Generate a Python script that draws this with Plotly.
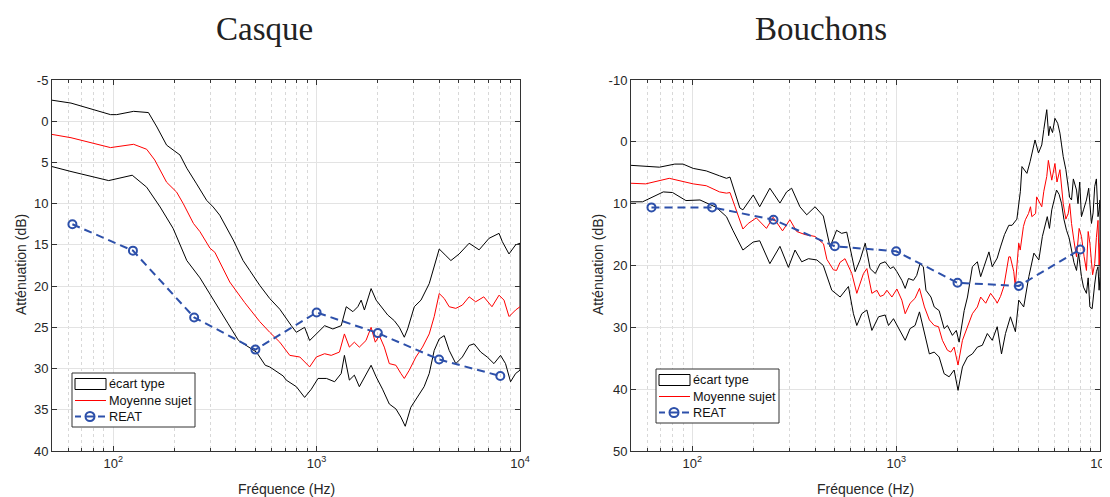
import math
import plotly.graph_objects as go

# ---------------- Casque (left) ----------------
cq_up_f = [50, 62, 97, 104, 126, 149, 164, 183, 213, 230, 257, 288, 310, 334, 389, 435, 469, 525, 588, 659,
           751, 795, 873, 924, 1016, 1095, 1202, 1321, 1399, 1508, 1594, 1656, 1718, 1853, 1962, 2075, 2236,
           2411, 2551, 2699, 2803, 3022, 3260, 3578, 3786, 4008, 4322, 4573, 5021, 5623, 6295, 7047, 7889,
           8185, 8830, 9514, 10000]
cq_up_db = [-2.55, -2.2, -0.8, -0.8, -1.2, -1.05, 0.7, 2.9, 4.1, 5.7, 7.6, 9.6, 10.4, 11.4, 14.4, 16.9, 18.1,
            19.9, 21.5, 22.8, 24.8, 25.6, 25.0, 26.6, 25.6, 24.8, 25.2, 24.8, 22.5, 23.1, 22.5, 21.7, 22.9,
            20.3, 21.7, 22.5, 23.5, 24.2, 25.0, 26.2, 25.2, 22.5, 21.7, 19.7, 17.7, 15.5, 16.3, 16.9, 16.1,
            14.8, 15.6, 14.2, 13.6, 14.6, 16.1, 15.0, 14.8]

cq_mean_f = [50, 62, 97, 126, 146, 160, 183, 205, 221, 248, 267, 299, 316, 374, 443, 525, 588, 659, 738, 827,
             924, 997, 1095, 1180, 1295, 1370, 1449, 1533, 1622, 1749, 1853, 1943, 2034, 2152, 2277, 2454,
             2597, 2699, 2855, 3078, 3316, 3578, 3786, 4008, 4240, 4486, 4834, 5207, 5623, 6055, 6637, 7280,
             7889, 8344, 8830, 9514, 10000]
cq_mean_db = [1.6, 2.0, 3.2, 2.8, 3.4, 4.7, 7.4, 8.6, 10.0, 12.4, 13.4, 15.4, 15.9, 19.5, 22.0, 24.3, 25.6,
              26.8, 28.4, 28.6, 29.8, 28.6, 28.2, 28.4, 28.0, 25.8, 27.4, 26.8, 27.4, 26.6, 25.0, 26.8, 26.0,
              27.4, 29.4, 29.6, 30.6, 31.2, 30.2, 28.6, 27.4, 25.8, 23.7, 20.9, 21.5, 22.5, 22.7, 22.3, 21.3,
              21.9, 21.3, 22.5, 21.1, 21.7, 23.7, 22.9, 22.5]

cq_low_f = [50, 62, 95, 124, 146, 170, 197, 230, 267, 316, 366, 413, 506, 559, 588, 685, 709, 795, 873, 942,
            1016, 1118, 1226, 1321, 1370, 1449, 1533, 1622, 1718, 1853, 1962, 2109, 2277, 2454, 2597, 2727,
            2905, 3126, 3377, 3578, 3786, 4008, 4240, 4486, 4834, 5207, 5623, 5948, 6410, 6900, 7446, 8024,
            8488, 8986, 9514, 10000]
cq_low_db = [5.5, 6.1, 7.2, 6.55, 8.0, 10.4, 13.0, 16.9, 19.0, 22.0, 24.5, 26.6, 28.0, 29.6, 29.8, 30.9, 31.4,
             32.2, 33.5, 32.5, 31.2, 31.2, 31.6, 30.6, 28.4, 31.4, 30.8, 32.2, 31.0, 29.6, 31.0, 32.5, 34.3,
             34.9, 35.9, 37.0, 34.7, 33.5, 32.2, 30.6, 27.8, 26.4, 26.0, 27.8, 29.4, 28.6, 27.2, 27.0, 28.0,
             28.6, 29.4, 28.4, 29.4, 31.6, 30.6, 30.2]

reat_f = [63, 125, 250, 500, 1000, 2000, 4000, 8000]
cq_reat_db = [12.5, 15.7, 23.8, 27.7, 23.2, 25.7, 28.9, 30.9]

# ---------------- Bouchons (right) ----------------
bc_up_f = [50, 69, 82, 90, 101, 117, 136, 147, 153, 171, 177, 199, 214, 240, 269, 290, 307, 337, 364, 400,
           439, 474, 510, 540, 572, 600, 629, 665, 705, 745, 790, 834, 883, 935, 970, 1008, 1066, 1107, 1149,
           1215, 1261, 1309, 1359, 1400, 1481, 1537, 1625, 1719, 1784, 1887, 1972, 2036, 2156, 2238, 2365,
           2502, 2597, 2696, 2852, 2960, 3131, 3250, 3400, 3569, 3704, 3910, 4068, 4140, 4380, 4540, 4800,
           4990, 5180, 5480, 5690, 6010, 6360, 6600, 6980, 7250, 7670, 8110, 8580, 9080, 9420, 9780, 10000]
bc_up_db = [3.8, 4.1, 3.6, 3.6, 4.3, 4.7, 5.5, 5.9, 5.7, 10.7, 11.0, 8.6, 10.5, 7.5, 9.9, 8.1, 7.5, 10.5, 11.8,
            10.5, 12.0, 17.0, 14.3, 14.8, 14.6, 18.0, 21.0, 19.1, 16.4, 20.5, 21.3, 19.7, 19.4, 20.5, 20.2,
            21.0, 22.4, 23.7, 22.1, 22.4, 21.6, 19.7, 20.2, 24.0, 25.1, 26.7, 27.3, 30.2, 29.7, 31.3, 30.5,
            32.4, 27.3, 25.1, 20.2, 19.4, 21.8, 20.2, 17.8, 20.2, 18.8, 17.0, 15.0, 13.5, 13.5, 12.5, 8.0, 4.0,
            5.1, 3.2, -0.3, 1.8, 0.5, -5.2, -2.5, -3.8, -1.4, 2.4, 7.8, 9.4, 7.8, 12.1, 9.4, 13.2, 7.2, 12.1,
            9.4]
# extra readings in the dense high-frequency band
bc_up_f2 = [5300, 5600, 5850, 6200, 6480, 6800, 7100, 7400, 7800, 7950, 8300, 8800, 9250, 9600, 9900]
bc_up_db2 = [-2.0, -1.0, -1.5, -3.0, 0.5, 4.5, 9.0, 6.0, 10.0, 6.5, 11.0, 7.5, 11.5, 6.0, 11.0]

bc_mean_f = [50, 59, 77, 101, 117, 136, 147, 153, 162, 177, 188, 206, 231, 249, 277, 301, 325, 357, 400, 440,
             457, 492, 510, 530, 561, 593, 606, 641, 691, 718, 760, 804, 834, 867, 900, 953, 1008, 1066, 1107,
             1170, 1238, 1301, 1376, 1455, 1537, 1613, 1686, 1784, 1853, 1924, 2011, 2114, 2238, 2365, 2502,
             2597, 2751, 2905, 3073, 3130, 3250, 3373, 3569, 3630, 3776, 3840, 3993, 4060, 4210, 4304, 4460,
             4561, 4630, 4830, 4890, 5180, 5480, 5580, 5800, 6010, 6360, 6600, 6980, 7250, 7670, 8110, 8580,
             8920, 9420, 9780, 10000]
bc_mean_db = [6.7, 6.8, 5.9, 6.8, 7.1, 8.1, 8.3, 8.2, 10.5, 14.1, 13.2, 12.3, 14.0, 12.2, 14.4, 12.6, 14.5,
              15.0, 15.3, 16.5, 19.0, 20.7, 20.8, 19.5, 18.9, 20.8, 21.3, 24.5, 21.3, 20.5, 24.5, 24.0, 25.0,
              24.8, 24.0, 25.1, 23.8, 25.6, 27.8, 26.1, 25.3, 23.7, 26.7, 28.8, 29.7, 29.9, 32.1, 33.7, 34.0,
              33.2, 36.1, 32.1, 29.9, 27.8, 26.7, 25.1, 26.1, 24.5, 25.6, 26.1, 25.0, 23.4, 18.6, 18.6, 21.0,
              23.4, 16.4, 17.5, 13.7, 12.6, 11.6, 10.5, 12.1, 11.6, 8.9, 10.5, 5.6, 3.0, 6.2, 3.5, 4.5, 10.0,
              11.6, 13.2, 18.6, 15.3, 20.8, 16.4, 19.7, 12.7, 16.4]
bc_mean_f2 = [5300, 5700, 6150, 6500, 6800, 7100, 7450, 7900, 8350, 8750, 9200, 9600, 9900]
bc_mean_db2 = [8.0, 4.5, 6.5, 8.0, 12.5, 10.0, 16.0, 14.0, 18.5, 14.5, 21.5, 15.5, 20.0]

bc_low_f = [50, 57, 72, 80, 93, 109, 131, 147, 158, 177, 199, 214, 240, 269, 296, 319, 344, 371, 408, 439,
            465, 483, 531, 583, 617, 641, 678, 718, 760, 819, 883, 917, 970, 1046, 1107, 1170, 1238, 1301,
            1376, 1455, 1537, 1625, 1719, 1819, 1924, 2011, 2114, 2238, 2365, 2502, 2647, 2800, 2960, 3131,
            3287, 3438, 3636, 3846, 3993, 4224, 4476, 4739, 5011, 5216, 5512, 5800, 6120, 6480, 6850, 7250,
            7670, 8110, 8580, 8920, 9420, 9780, 10000]
bc_low_db = [9.7, 9.7, 8.1, 8.2, 9.5, 9.4, 10.6, 12.1, 14.3, 17.5, 16.2, 16.0, 19.7, 16.9, 20.3, 17.5, 19.4,
             18.9, 19.1, 20.0, 22.4, 24.0, 25.1, 23.4, 27.8, 29.7, 27.8, 27.2, 30.5, 28.3, 28.0, 29.7, 28.6,
             30.5, 32.1, 30.2, 29.7, 27.5, 31.0, 34.3, 34.0, 34.8, 37.5, 38.0, 36.9, 40.2, 36.4, 34.8, 34.3,
             33.2, 32.9, 31.0, 32.1, 29.9, 34.3, 31.0, 28.3, 30.7, 25.6, 26.7, 21.8, 18.0, 19.1, 15.3, 12.1,
             11.0, 7.8, 10.0, 14.3, 17.5, 20.8, 21.8, 24.5, 26.7, 23.0, 20.2, 21.8]
bc_low_f2 = [5650, 5950, 6300, 6650, 7050, 7450, 7850, 8300, 8750, 9150, 9600, 9900]
bc_low_db2 = [14.0, 9.5, 8.5, 12.5, 15.5, 19.5, 18.0, 23.5, 22.0, 27.0, 21.0, 24.0]

bc_reat_db = [10.6, 10.6, 12.6, 16.9, 17.7, 22.8, 23.3, 17.4]

titles = ["Casque", "Bouchons"]
legend_labels = ["écart type", "Moyenne sujet", "REAT"]
xlabel = "Fréquence (Hz)"
ylabel = "Atténuation (dB)"
cq_yticks = [-5, 0, 5, 10, 15, 20, 25, 30, 35, 40]
bc_yticks = [-10, 0, 10, 20, 30, 40, 50]
x_tickvals = [100, 1000, 10000]
x_ticktext = ["10<sup>2</sup>", "10<sup>3</sup>", "10<sup>4</sup>"]

# ---------------- styling ----------------
W, H = 1110, 497
OFF = 8  # the page body offsets the figure by 8 px
RED = "#ff0000"
BLUE = "rgb(45,80,170)"
AX = "#333333"
TXT = "#262626"
FONT = "Liberation Sans"


def px(x):
    return (x - OFF) / W


def py(y):
    return 1 - (y - OFF) / H


def merged(f, db, f2=(), db2=()):
    pts = sorted(zip(list(f) + list(f2), list(db) + list(db2)))
    return [p[0] for p in pts], [p[1] for p in pts]


fig = go.Figure()


def add_panel(up, mean, low, reat_db, xa, ya):
    up_f, up_db = up
    low_f, low_db = low
    fig.add_trace(go.Scatter(
        x=up_f + low_f[::-1], y=up_db + low_db[::-1],
        mode="lines", fill="toself", fillcolor="rgba(0,0,0,0)",
        line=dict(color="black", width=1), xaxis=xa, yaxis=ya,
        name=legend_labels[0], showlegend=False, hoverinfo="skip"))
    fig.add_trace(go.Scatter(
        x=mean[0], y=mean[1], mode="lines", line=dict(color=RED, width=1),
        xaxis=xa, yaxis=ya, name=legend_labels[1], showlegend=False))
    fig.add_trace(go.Scatter(
        x=reat_f, y=reat_db, mode="lines+markers",
        line=dict(color=BLUE, width=2, dash="8px,5px"),
        marker=dict(symbol="circle-open", size=8, color=BLUE, line=dict(width=2, color=BLUE)),
        xaxis=xa, yaxis=ya, name=legend_labels[2], showlegend=False))


add_panel(merged(cq_up_f, cq_up_db), merged(cq_mean_f, cq_mean_db), merged(cq_low_f, cq_low_db),
          cq_reat_db, "x", "y")
add_panel(merged(bc_up_f, bc_up_db, bc_up_f2, bc_up_db2), merged(bc_mean_f, bc_mean_db, bc_mean_f2, bc_mean_db2),
          merged(bc_low_f, bc_low_db, bc_low_f2, bc_low_db2), bc_reat_db, "x2", "y2")

minor_vals = [m * 10 ** d for d in (1, 2, 3) for m in range(2, 10) if 50 <= m * 10 ** d <= 10000]

xcommon = dict(
    type="log", range=[math.log10(50), 4], tickvals=x_tickvals, ticktext=x_ticktext,
    ticks="inside", ticklen=5, tickcolor=AX, showline=True, linecolor=AX, linewidth=1, mirror="ticks",
    showgrid=True, gridcolor="#e3e3e3", gridwidth=1, zeroline=False, automargin=False,
    ticklabeloverflow="allow",
    tickfont=dict(family=FONT, size=13, color=TXT),
    minor=dict(tickvals=minor_vals, ticks="inside", ticklen=3, tickcolor=AX,
               showgrid=True, gridcolor="#d8d8d8", griddash="dot", gridwidth=1),
)
ycommon = dict(
    ticks="inside", ticklen=5, tickcolor=AX, showline=True, linecolor=AX, linewidth=1, mirror="ticks",
    showgrid=True, gridcolor="#e3e3e3", gridwidth=1, zeroline=False, automargin=False,
    ticklabeloverflow="allow",
    tickfont=dict(family=FONT, size=13, color=TXT),
)

ydom = [py(451), py(80)]
fig.update_layout(
    width=W, height=H, margin=dict(l=0, r=0, t=0, b=0, pad=0, autoexpand=False),
    paper_bgcolor="white", plot_bgcolor="white", showlegend=False,
    xaxis=dict(domain=[px(52), px(520)], anchor="y", **xcommon),
    yaxis=dict(domain=ydom, anchor="x", range=[40, -5], tickvals=cq_yticks,
               ticktext=[str(v) for v in cq_yticks], **ycommon),
    xaxis2=dict(domain=[px(631), px(1100)], anchor="y2", **xcommon),
    yaxis2=dict(domain=ydom, anchor="x2", range=[50, -10], tickvals=bc_yticks,
                ticktext=[str(v) for v in bc_yticks], **ycommon),
)

ann = []
shapes = []
for cx, t in zip([264, 821], titles):
    ann.append(dict(x=px(cx), y=py(29), xref="paper", yref="paper", text=t, showarrow=False,
                    font=dict(family="Liberation Serif", size=33, color="#222222"),
                    xanchor="center", yanchor="middle"))
for cx in [286, 865]:
    ann.append(dict(x=px(cx), y=py(489), xref="paper", yref="paper", text=xlabel, showarrow=False,
                    font=dict(family=FONT, size=14, color=TXT), xanchor="center", yanchor="middle"))
for cx in [21, 598]:
    ann.append(dict(x=px(cx), y=py(265), xref="paper", yref="paper", text=ylabel, showarrow=False,
                    textangle=-90, font=dict(family=FONT, size=14, color=TXT),
                    xanchor="center", yanchor="middle"))

# manual legends (MATLAB style)
for L, T in [(72, 373), (656, 369)]:
    Rr, B = L + 123, T + 54
    shapes.append(dict(type="rect", xref="paper", yref="paper", x0=px(L), x1=px(Rr), y0=py(B), y1=py(T),
                       line=dict(color="#333333", width=1), fillcolor="white", layer="above"))
    r1, r2, r3 = T + 11, T + 27.5, T + 43.5
    shapes.append(dict(type="rect", xref="paper", yref="paper", x0=px(L + 3), x1=px(L + 34),
                       y0=py(r1 + 5.5), y1=py(r1 - 5.5), line=dict(color="black", width=1),
                       fillcolor="white", layer="above"))
    shapes.append(dict(type="line", xref="paper", yref="paper", x0=px(L + 3), x1=px(L + 34),
                       y0=py(r2), y1=py(r2), line=dict(color=RED, width=1), layer="above"))
    for a, b in [(L + 3, L + 9), (L + 26, L + 33)]:
        shapes.append(dict(type="line", xref="paper", yref="paper", x0=px(a), x1=px(b),
                           y0=py(r3), y1=py(r3), line=dict(color=BLUE, width=2), layer="above"))
    shapes.append(dict(type="line", xref="paper", yref="paper", x0=px(L + 13), x1=px(L + 23),
                       y0=py(r3), y1=py(r3), line=dict(color=BLUE, width=2), layer="above"))
    shapes.append(dict(type="circle", xref="paper", yref="paper", x0=px(L + 13.5), x1=px(L + 22.5),
                       y0=py(r3 + 4.5), y1=py(r3 - 4.5), line=dict(color=BLUE, width=2), layer="above"))
    for rr, lab in zip([r1, r2, r3], legend_labels):
        ann.append(dict(x=px(L + 35), y=py(rr), xref="paper", yref="paper", text=lab, showarrow=False,
                        font=dict(family=FONT, size=12.7, color="#111111"), xanchor="left", yanchor="middle"))

fig.update_layout(annotations=ann, shapes=shapes)
fig.write_html("out.html")
